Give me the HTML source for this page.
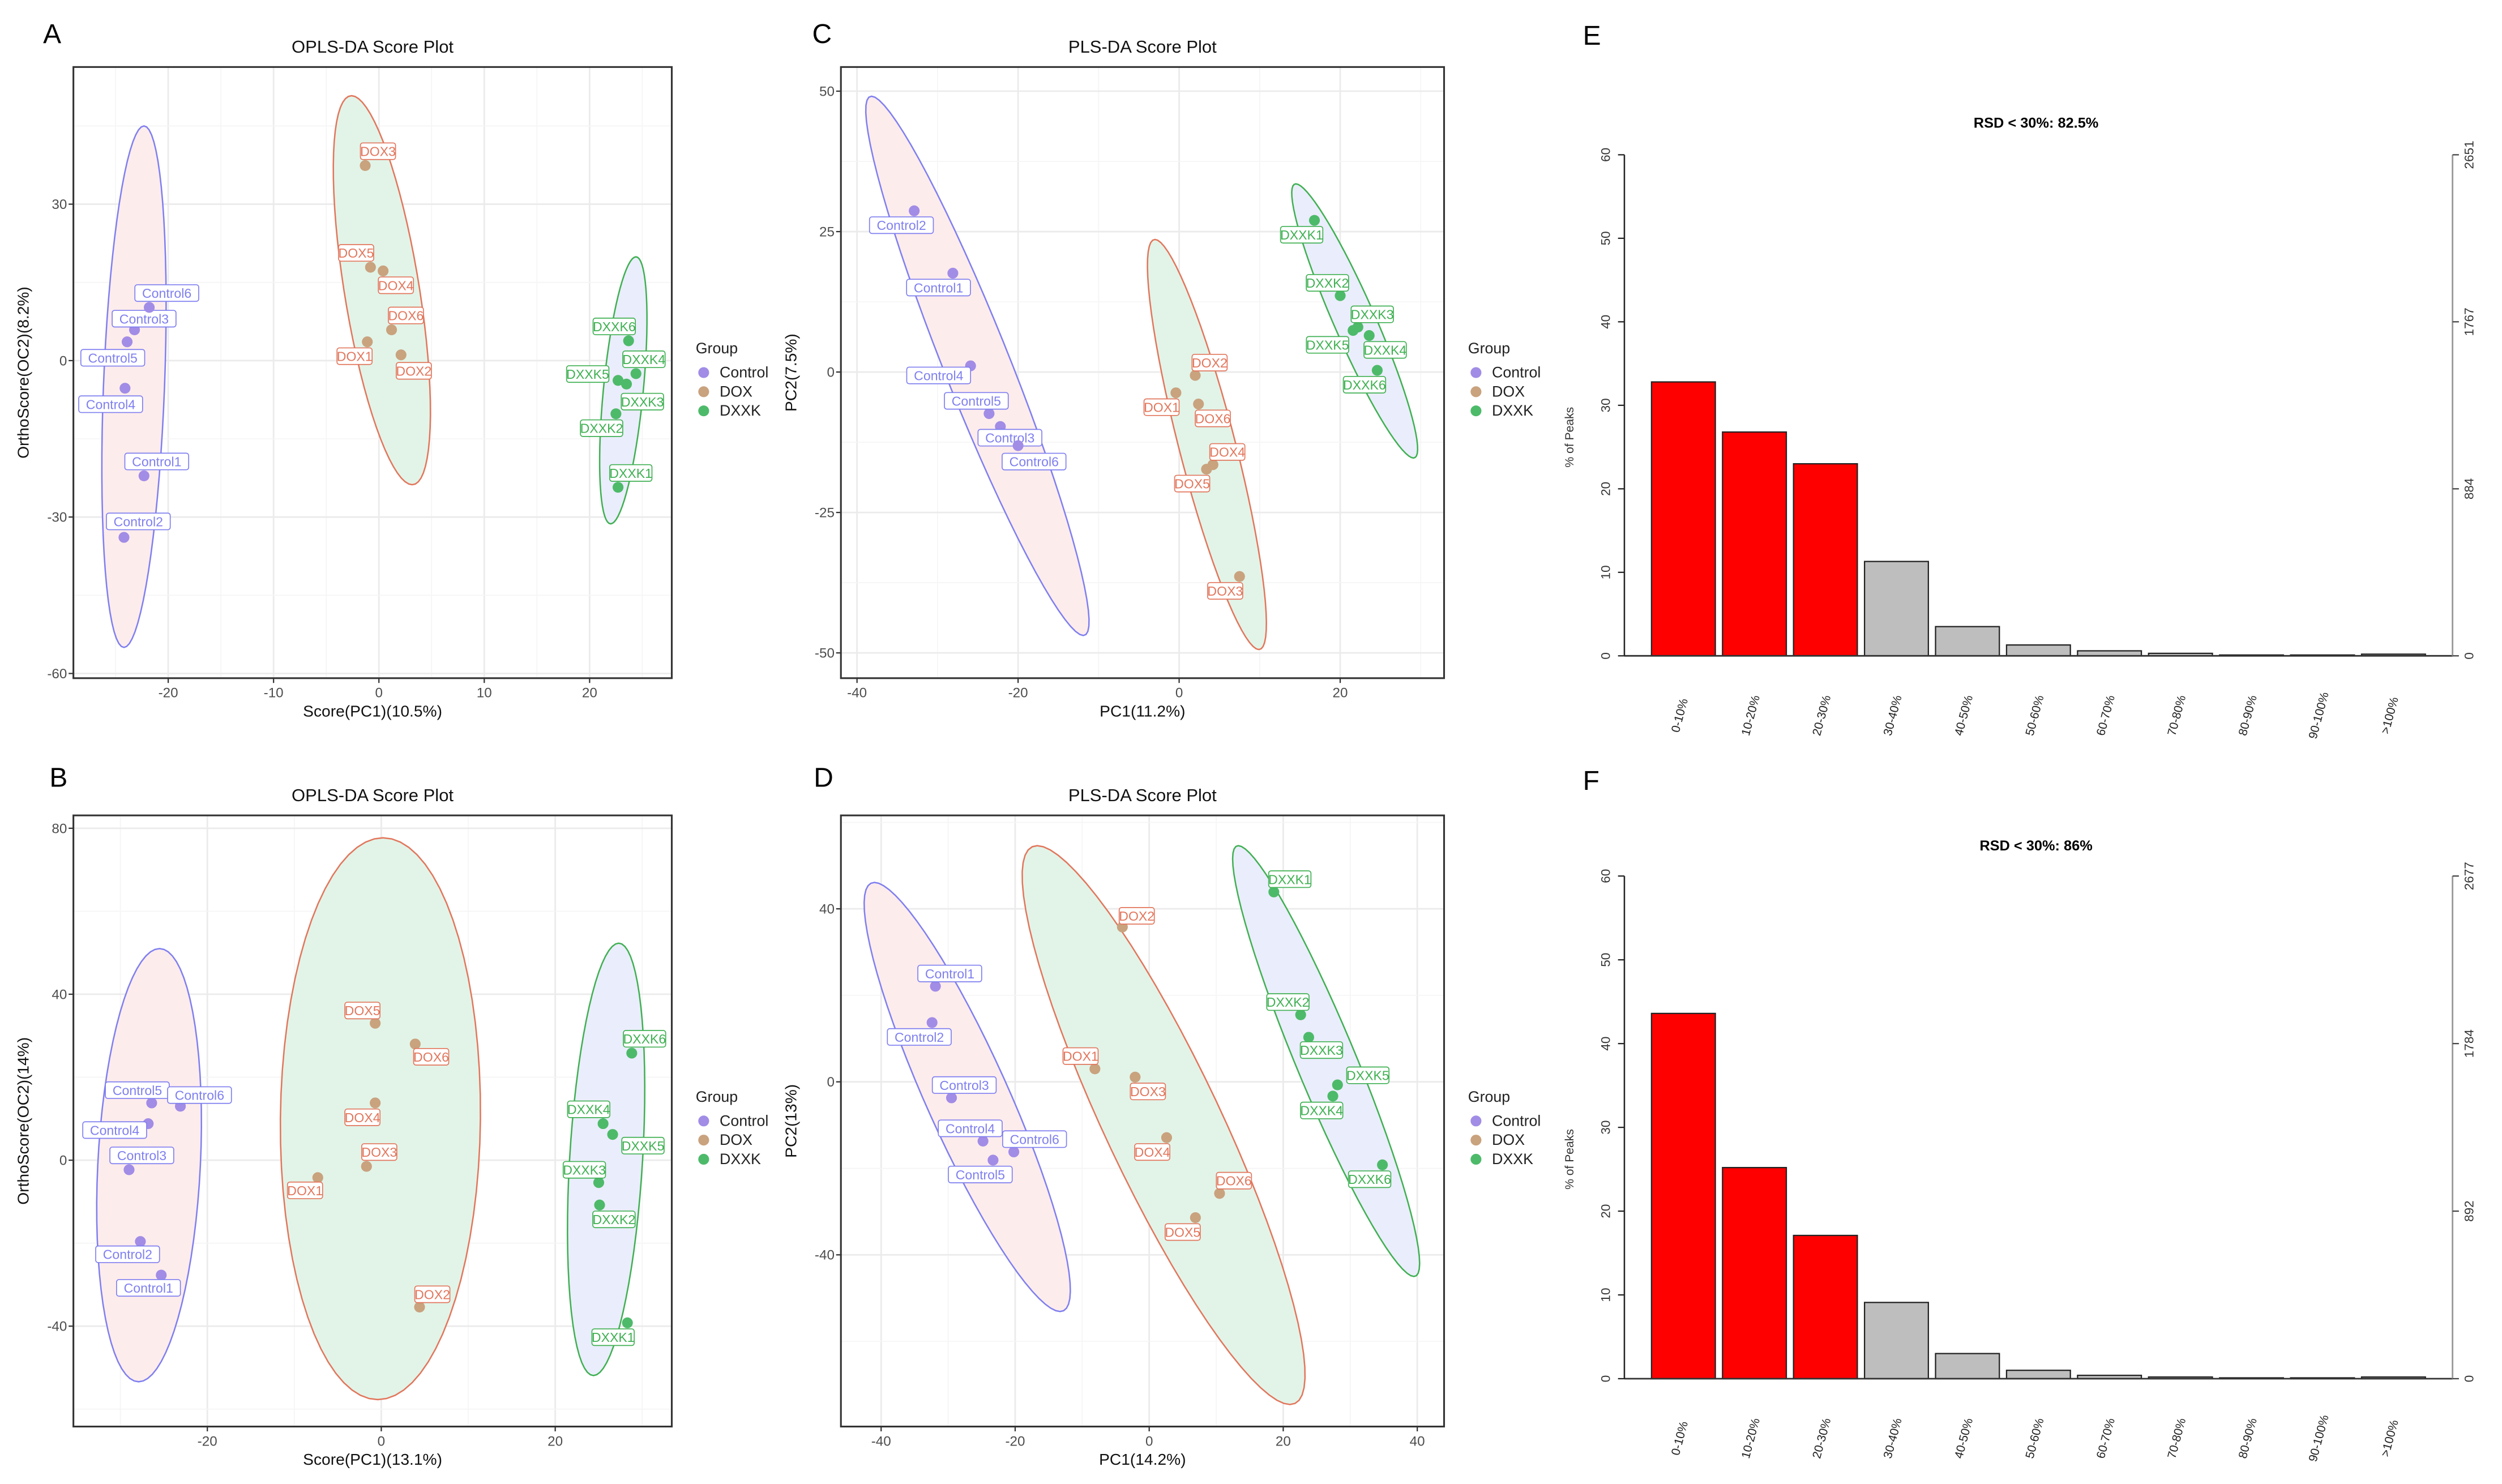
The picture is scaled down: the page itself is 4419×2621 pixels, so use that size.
<!DOCTYPE html>
<html><head><meta charset="utf-8"><style>
html,body{margin:0;padding:0;background:#fff;}
svg{display:block;font-family:"Liberation Sans",sans-serif;}
</style></head><body>
<svg id="fig" width="4419" height="2621" viewBox="0 0 1568 930" preserveAspectRatio="none" xmlns="http://www.w3.org/2000/svg"></svg>
<script>
// ---------- data ----------
const sampleNames = ["Control1","Control2","Control3","Control4","Control5","Control6","DOX1","DOX2","DOX3","DOX4","DOX5","DOX6","DXXK1","DXXK2","DXXK3","DXXK4","DXXK5","DXXK6"];
const sampleGroups = ["Control","Control","Control","Control","Control","Control","DOX","DOX","DOX","DOX","DOX","DOX","DXXK","DXXK","DXXK","DXXK","DXXK","DXXK"];
const groupNames = ["Control","DOX","DXXK"];

const aX = [-22.3,-24.2,-23.2,-24.1,-23.9,-21.8, -1.1,2.1,-1.3,0.4,-0.8,1.2, 22.7,22.5,23.5,24.4,22.7,23.7];
const aY = [-22.1,-33.9,5.9,-5.3,3.6,10.2, 3.6,1.1,37.4,17.2,17.9,5.9, -24.3,-10.2,-4.5,-2.5,-3.8,3.8];
const bX = [-25.3,-27.7,-29,-26.8,-26.4,-23.1, -7.3,4.4,-1.7,-0.7,-0.7,3.9, 28.3,25.1,25,25.5,26.6,28.8];
const bY = [-27.7,-19.6,-2.3,8.8,13.8,13, -4.2,-35.4,-1.5,13.8,33,28, -39.2,-10.8,-5.4,8.8,6.2,25.8];
const cX = [-28.1,-32.9,-22.2,-25.9,-23.6,-20, -0.4,2,7.5,4.2,3.4,2.4, 16.8,20,22.2,23.6,21.6,24.6];
const cY = [17.6,28.7,-9.7,1.1,-7.4,-13.1, -3.7,-0.6,-36.4,-16.5,-17.3,-5.7, 27,13.6,8,6.5,7.4,0.3];
const dX = [-31.9,-32.4,-29.5,-24.8,-23.3,-20.2, -8.1,-4,-2.1,2.6,6.9,10.5, 18.6,22.6,23.8,27.4,28.1,34.8];
const dY = [22.1,13.7,-3.7,-13.7,-18.1,-16.2, 3,35.8,1.1,-12.9,-31.4,-25.8, 43.9,15.5,10.3,-3.3,-0.7,-19.2];

// ellipse params per group: [cx, cy, majorDx, majorDy, horizHalfWidth] (data units)
const aEll = [[-23.25,-5,0.95,50,2.9],[0.28,13.5,-2.88,37.3,3.6],[23.2,-5.7,1.2,25.6,1.9]];
const bEll = [[-26.7,-1.2,1.2,52.2,5.9],[-0.1,10,0.3,67.7,11.5],[25.85,0.2,1.45,52.1,4.2]];
const cEll = [[-25.05,1.1,-13.15,48,4.4],[3.45,-12.9,-6.45,36.5,3.6],[21.8,9.1,-7.3,24.4,2.8]];
const dEll = [[-27.15,-3.5,-13.85,49.6,6.7],[2.15,-10,-18.85,64.6,9.5],[26.4,4.8,-13.1,49.8,4.8]];

const aXTicks = [-20,-10,0,10,20], aYTicks = [-60,-30,0,30];
const bXTicks = [-20,0,20], bYTicks = [-40,0,40,80];
const cXTicks = [-40,-20,0,20], cYTicks = [-50,-25,0,25,50];
const dXTicks = [-40,-20,0,20,40], dYTicks = [-40,0,40];

const rsdCategories = ["0-10%","10-20%","20-30%","30-40%","40-50%","50-60%","60-70%","70-80%","80-90%","90-100%",">100%"];
const eValues = [32.8,26.8,23,11.3,3.5,1.3,0.6,0.3,0.1,0.1,0.2];
const fValues = [43.6,25.2,17.1,9.1,3,1,0.4,0.2,0.1,0.1,0.2];
const barYTicks = [0,10,20,30,40,50,60];
const eRightTicks = ["0","884","1767","2651"];
const fRightTicks = ["0","892","1784","2677"];

// label offsets (pixel styling, not data)
const aOff=[[8,-9],[9,-10],[6,-7],[-9,10],[-9,10],[11,-9],[-8,9],[8,10],[8,-9],[8,9],[-9,-9],[9,-9],[8,-9],[-9,9],[10,11],[5,-9],[-19,-4],[-9,-9]];
const bOff=[[-8,8],[-8,8],[8,-9],[-21,4],[-9,-8],[12,-7],[-8,8],[8,-8],[8,-9],[-8,9],[-8,-8],[10,8],[-9,9],[9,9],[-9,-8],[-9,-9],[19,7],[8,-9]];
const cOff=[[-9,9],[-8,9],[6,7],[-20,6],[-8,-8],[10,10],[-9,9],[9,-8],[-9,9],[9,-8],[-9,9],[9,9],[-8,9],[-8,-8],[9,-8],[10,9],[-16,9],[-8,9]];
const dOff=[[9,-8],[-8,9],[8,-8],[-8,-8],[-8,9],[13,-8],[-9,-8],[9,-7],[8,9],[-9,9],[-8,9],[9,-8],[10,-8],[-8,-8],[8,8],[-7,9],[19,-6],[-8,9]];

// ---------- rendering ----------
const NS="http://www.w3.org/2000/svg";
const svg=document.getElementById('fig');
function mk(tag,attrs,parent){const e=document.createElementNS(NS,tag);for(const k in attrs)e.setAttribute(k,attrs[k]);(parent||svg).appendChild(e);return e;}
function txt(s,attrs,parent){const e=mk('text',attrs,parent);e.textContent=s;return e;}
const ptCol={Control:"#a18ce6",DOX:"#c9a27e",DXXK:"#4dba6a"};
const lblCol={Control:"#7f7ff0",DOX:"#e2765c",DXXK:"#3fb052"};
const ellStroke=["#7f7ff0","#e2765c","#3fb052"];
const ellFill=["#fdecec","#e2f4e8","#eaedfb"];

function scatterPanel(o){
  const g=mk('g',{});
  
  
  const sx=v=>o.box[0]+(v-o.xd[0])/(o.xd[1]-o.xd[0])*(o.box[2]-o.box[0]);
  const sy=v=>o.box[3]-(v-o.yd[0])/(o.yd[1]-o.yd[0])*(o.box[3]-o.box[1]);
  const L=txt(o.letter,{x:o.letterPos[0],y:o.letterPos[1],'font-size':17,fill:'#000'},g);
  
  const T=txt(o.title,{x:(o.box[0]+o.box[2])/2,y:o.box[1]-9,'font-size':11,'text-anchor':'middle',fill:'#111'},g);
  
  const xt=o.xt, yt=o.yt;
  const stepX=xt[1]-xt[0], stepY=yt[1]-yt[0];
  for(let v=xt[0]-stepX/2; v<=o.xd[1]; v+=stepX/2){ if(v<o.xd[0])continue; const major=xt.some(t=>Math.abs(t-v)<1e-6);
    mk('line',{x1:sx(v),x2:sx(v),y1:o.box[1],y2:o.box[3],stroke:major?'#ebebeb':'#f5f5f5','stroke-width':major?1:0.6},g);}
  for(let v=yt[0]-stepY/2; v<=o.yd[1]; v+=stepY/2){ if(v<o.yd[0])continue; const major=yt.some(t=>Math.abs(t-v)<1e-6);
    mk('line',{y1:sy(v),y2:sy(v),x1:o.box[0],x2:o.box[2],stroke:major?'#ebebeb':'#f5f5f5','stroke-width':major?1:0.6},g);}
  o.ell.forEach((e,i)=>{
    let d='';
    for(let k=0;k<=72;k++){const t=k/72*2*Math.PI;const x=e[0]+Math.cos(t)*e[2]+Math.sin(t)*e[4];const y=e[1]+Math.cos(t)*e[3];d+=(k?'L':'M')+sx(x).toFixed(2)+' '+sy(y).toFixed(2);}
    const p=mk('path',{d:d+'Z',fill:ellFill[i],stroke:ellStroke[i],'stroke-width':0.9},g);
    
    
  });
  o.xs.forEach((xv,i)=>{
    const grp=sampleGroups[i];const px=sx(xv),py=sy(o.ys[i]);
    const c=mk('circle',{cx:px,cy:py,r:3.4,fill:ptCol[grp]},g);
    
    
    const lx=px+o.off[i][0], ly=py+o.off[i][1];
    const w=sampleNames[i].length*4.5+4;
    const r=mk('rect',{x:lx-w/2,y:ly-5.2,width:w,height:10.4,rx:1.5,fill:'#fff',stroke:lblCol[grp],'stroke-width':0.6},g);
    
    
    const t=txt(sampleNames[i],{x:lx,y:ly+3,'font-size':8.2,'text-anchor':'middle',fill:lblCol[grp]},g);
    
    
  });
  const b=mk('rect',{x:o.box[0],y:o.box[1],width:o.box[2]-o.box[0],height:o.box[3]-o.box[1],fill:'none',stroke:'#333','stroke-width':1.1},g);
  
  xt.forEach(v=>{mk('line',{x1:sx(v),x2:sx(v),y1:o.box[3],y2:o.box[3]+3,stroke:'#333','stroke-width':0.8},g);
    const t=txt(String(v),{x:sx(v),y:o.box[3]+12,'font-size':8.6,'text-anchor':'middle',fill:'#4d4d4d'},g);
    });
  yt.forEach(v=>{mk('line',{x1:o.box[0]-3,x2:o.box[0],y1:sy(v),y2:sy(v),stroke:'#333','stroke-width':0.8},g);
    const t=txt(String(v),{x:o.box[0]-4,y:sy(v)+3,'font-size':8.6,'text-anchor':'end',fill:'#4d4d4d'},g);
    });
  const xa=txt(o.xlab,{x:(o.box[0]+o.box[2])/2,y:o.box[3]+24,'font-size':10,'text-anchor':'middle',fill:'#111'},g);
  
  const yx=o.box[0]-28, yy=(o.box[1]+o.box[3])/2;
  const ya=txt(o.ylab,{x:yx,y:yy,'font-size':10,'text-anchor':'middle',fill:'#111',transform:`rotate(-90 ${yx} ${yy})`},g);
  
  const lg=mk('g',{},g);
  
  const lx0=o.box[2]+15, ly0=(o.box[1]+o.box[3])/2;
  txt('Group',{x:lx0,y:ly0-12,'font-size':9.5,fill:'#222'},lg);
  groupNames.forEach((gn,i)=>{
    const y=ly0+3+i*12;
    const c=mk('circle',{cx:lx0+5,cy:y-3,r:3.4,fill:ptCol[gn]},lg);
    
    const t=txt(gn,{x:lx0+15,y:y,'font-size':9.5,fill:'#222'},lg);
    
  });
}

scatterPanel({name:'panel-a-opls-da',letter:'A',letterPos:[27,27],title:'OPLS-DA Score Plot',box:[46,42,421,425],xd:[-29,27.8],yd:[-60.9,56.3],xt:aXTicks,yt:aYTicks,ell:aEll,xs:aX,ys:aY,off:aOff,xlab:'Score(PC1)(10.5%)',ylab:'OrthoScore(OC2)(8.2%)'});
scatterPanel({name:'panel-b-opls-da',letter:'B',letterPos:[31,493],title:'OPLS-DA Score Plot',box:[46,511,421,894],xd:[-35.4,33.4],yd:[-64.2,83.1],xt:bXTicks,yt:bYTicks,ell:bEll,xs:bX,ys:bY,off:bOff,xlab:'Score(PC1)(13.1%)',ylab:'OrthoScore(OC2)(14%)'});
scatterPanel({name:'panel-c-pls-da',letter:'C',letterPos:[509,27],title:'PLS-DA Score Plot',box:[527,42,905,425],xd:[-42,32.9],yd:[-54.5,54.3],xt:cXTicks,yt:cYTicks,ell:cEll,xs:cX,ys:cY,off:cOff,xlab:'PC1(11.2%)',ylab:'PC2(7.5%)'});
scatterPanel({name:'panel-d-pls-da',letter:'D',letterPos:[510,493],title:'PLS-DA Score Plot',box:[527,511,905,894],xd:[-46,44],yd:[-79.7,61.6],xt:dXTicks,yt:dYTicks,ell:dEll,xs:dX,ys:dY,off:dOff,xlab:'PC1(14.2%)',ylab:'PC2(13%)'});

function barPanel(o){
  const g=mk('g',{});
  
  
  const y0=o.y0, y60=o.y60, ax=1018, rx=1537;
  const sy=v=>y0-(v/60)*(y0-y60);
  const bx=i=>1035+i*44.5;
  const L=txt(o.letter,{x:992,y:o.letterY,'font-size':17,fill:'#000'},g);
  
  const T=txt(o.title,{x:1276,y:o.titleY,'font-size':9,'font-weight':'bold','text-anchor':'middle',fill:'#000'},g);
  
  o.vals.forEach((v,i)=>{
    const r=mk('rect',{x:bx(i),y:sy(v),width:40,height:y0-sy(v),fill:i<3?'#ff0000':'#bebebe',stroke:'#222','stroke-width':0.8},g);
    
    
    const cx=bx(i)+20, cy=y0+38;
    const t=txt(rsdCategories[i],{x:cx,y:cy,'font-size':7.5,'text-anchor':'middle',fill:'#222',transform:`rotate(-75 ${cx} ${cy})`},g);
    
  });
  mk('line',{x1:ax,x2:rx,y1:y0,y2:y0,stroke:'#333','stroke-width':1},g);
  mk('line',{x1:ax,x2:ax,y1:y60,y2:y0,stroke:'#222','stroke-width':0.9},g);
  barYTicks.forEach(v=>{mk('line',{x1:ax-4,x2:ax,y1:sy(v),y2:sy(v),stroke:'#222','stroke-width':0.8},g);
    const x=ax-9,y=sy(v);
    const t=txt(String(v),{x:x,y:y,'font-size':8,'text-anchor':'middle',fill:'#333',transform:`rotate(-90 ${x} ${y})`},g);
    });
  mk('line',{x1:rx,x2:rx,y1:y60,y2:y0,stroke:'#999','stroke-width':1},g);
  o.right.forEach((s,i)=>{const y=y0-(i/(o.right.length-1))*(y0-y60);
    mk('line',{x1:rx,x2:rx+4,y1:y,y2:y,stroke:'#444','stroke-width':0.8},g);
    const x=rx+13;
    const t=txt(s,{x:x,y:y,'font-size':8,'text-anchor':'middle',fill:'#333',transform:`rotate(-90 ${x} ${y})`},g);
    });
  const yx=986, yy=(y0+y60)/2+20;
  const ya=txt('% of Peaks',{x:yx,y:yy,'font-size':7.5,'text-anchor':'middle',fill:'#333',transform:`rotate(-90 ${yx} ${yy})`},g);
  
}
barPanel({name:'panel-e-rsd',letter:'E',letterY:28,title:'RSD < 30%: 82.5%',titleY:80,y0:411,y60:97,vals:eValues,right:eRightTicks});
barPanel({name:'panel-f-rsd',letter:'F',letterY:495,title:'RSD < 30%: 86%',titleY:533,y0:864,y60:549,vals:fValues,right:fRightTicks});
</script>
</body></html>
